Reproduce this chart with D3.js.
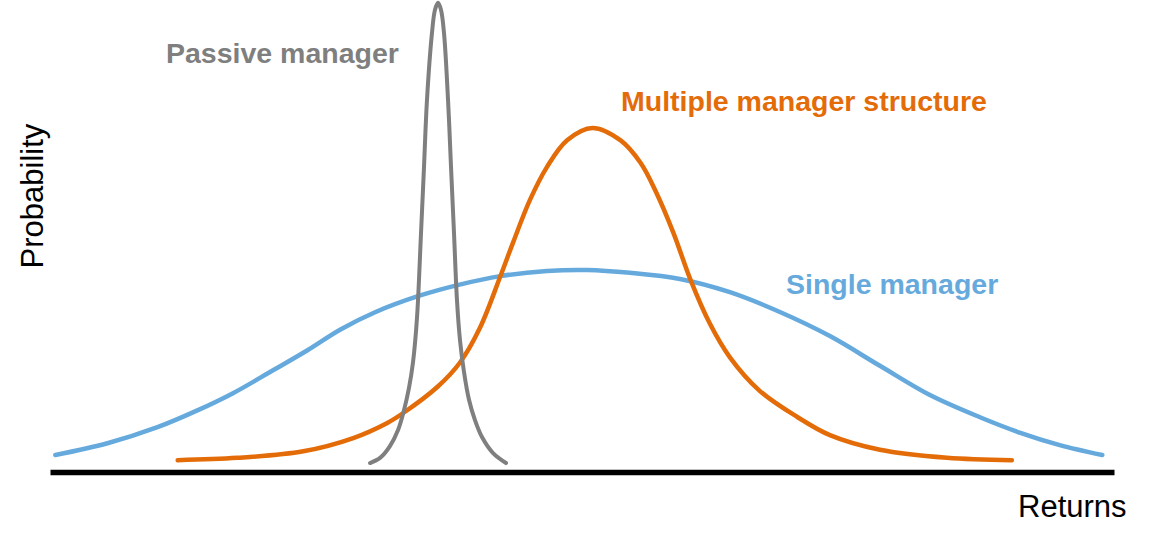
<!DOCTYPE html>
<html>
<head>
<meta charset="utf-8">
<script src="https://cdn.jsdelivr.net/npm/d3@7"></script>
<style>
    html, body { margin: 0; padding: 0; background: #fff; }
    svg { display: block; font-family: "Liberation Sans", Arial, sans-serif; }
</style>
</head>
<body>
<div id="chart"></div>
<script>
// returns (0-100 along the axis) and probability (0-1)
const passiveReturns = [30.08, 31.02, 31.95, 32.71, 33.27, 33.74, 34.12, 34.49, 34.87, 35.15, 35.43, 35.90, 36.18, 36.47, 36.75, 37.03, 37.41, 37.69, 37.97, 38.25, 38.53, 38.91, 39.38, 39.94, 40.60, 41.64, 42.86];
const passiveProb    = [0.019, 0.030, 0.055, 0.089, 0.131, 0.178, 0.233, 0.326, 0.506, 0.646, 0.788, 0.930, 0.979, 0.994, 0.979, 0.930, 0.788, 0.646, 0.506, 0.364, 0.280, 0.212, 0.153, 0.110, 0.074, 0.040, 0.019];

const multiReturns = [12.0, 17.6, 23.8, 28.5, 31.7, 33.2, 36.4, 38.5, 40.4, 42.3, 43.5, 45.1, 46.7, 48.6, 51.0, 53.6, 55.5, 57.0, 58.6, 60.2, 62.0, 63.9, 66.7, 70.2, 73.3, 78.0, 84.3, 90.4];
const multiProb    = [0.025, 0.030, 0.044, 0.072, 0.104, 0.125, 0.180, 0.231, 0.305, 0.413, 0.485, 0.576, 0.646, 0.703, 0.729, 0.703, 0.655, 0.591, 0.506, 0.407, 0.315, 0.243, 0.172, 0.117, 0.078, 0.047, 0.030, 0.025];

const singleReturns = [0.5, 5.4, 10.1, 13.8, 17.2, 21.0, 24.2, 27.3, 30.5, 34.8, 38.5, 42.3, 46.7, 50.5, 54.5, 59.2, 63.9, 68.6, 73.3, 78.0, 82.7, 87.4, 91.2, 94.9, 98.9];
const singleProb    = [0.036, 0.061, 0.095, 0.130, 0.167, 0.216, 0.258, 0.302, 0.338, 0.374, 0.397, 0.415, 0.426, 0.428, 0.422, 0.409, 0.381, 0.339, 0.288, 0.225, 0.163, 0.116, 0.083, 0.057, 0.036];

const seriesNames  = ["Single manager", "Multiple manager structure", "Passive manager"];
const seriesColors = ["#66aadd", "#e36c09", "#7f7f7f"];

function drawChart() {
    let width = 1150;
    let height = 545;

    let svg = d3.select('#chart')
        .append('svg')
        .attr('width', width)
        .attr('height', height);

    let x = d3.scaleLinear().domain([0, 100]).range([50, 1114]);
    let y = d3.scaleLinear().domain([0, 1]).range([472, 0]);

    let series = [
        { name: seriesNames[0], color: seriesColors[0], width: 4.5, pts: d3.zip(singleReturns, singleProb) },
        { name: seriesNames[1], color: seriesColors[1], width: 4.5, pts: d3.zip(multiReturns, multiProb) },
        { name: seriesNames[2], color: seriesColors[2], width: 4, pts: d3.zip(passiveReturns, passiveProb) }
    ];

    let line = d3.line()
        .x(function (d) { return x(d[0]); })
        .y(function (d) { return y(d[1]); })
        .curve(d3.curveCatmullRom.alpha(0.5));

    svg.selectAll('path.curve')
        .data(series)
        .enter()
        .append('path')
        .attr('class', 'curve')
        .attr('d', function (d) { return line(d.pts); })
        .attr('fill', 'none')
        .attr('stroke', function (d) { return d.color; })
        .attr('stroke-width', function (d) { return d.width; })
        .attr('stroke-linecap', 'round')
        .attr('stroke-linejoin', 'round');

    // returns axis, no ticks
    let axis = svg.append('g')
        .attr('transform', 'translate(0,' + y(0) + ')')
        .call(d3.axisBottom(x).tickValues([]).tickSizeOuter(0));
    axis.select('.domain')
        .attr('stroke', '#000')
        .attr('stroke-width', 5.5);

    svg.append('text')
        .attr('x', 1018)
        .attr('y', 517)
        .attr('font-size', 31)
        .attr('fill', '#000')
        .text('Returns');

    svg.append('text')
        .attr('transform', 'translate(43,196) rotate(-90)')
        .attr('text-anchor', 'middle')
        .attr('font-size', 31)
        .attr('fill', '#000')
        .text('Probability');

    // series labels
    let labels = [
        { text: seriesNames[2], color: seriesColors[2], x: 166, y: 63 },
        { text: seriesNames[1], color: seriesColors[1], x: 621, y: 111 },
        { text: seriesNames[0], color: seriesColors[0], x: 786, y: 294 }
    ];

    svg.selectAll('text.label')
        .data(labels)
        .enter()
        .append('text')
        .attr('class', 'label')
        .attr('x', function (d) { return d.x; })
        .attr('y', function (d) { return d.y; })
        .attr('font-size', 28.5)
        .attr('font-weight', 'bold')
        .attr('fill', function (d) { return d.color; })
        .text(function (d) { return d.text; });
}

drawChart();
</script>
</body>
</html>
